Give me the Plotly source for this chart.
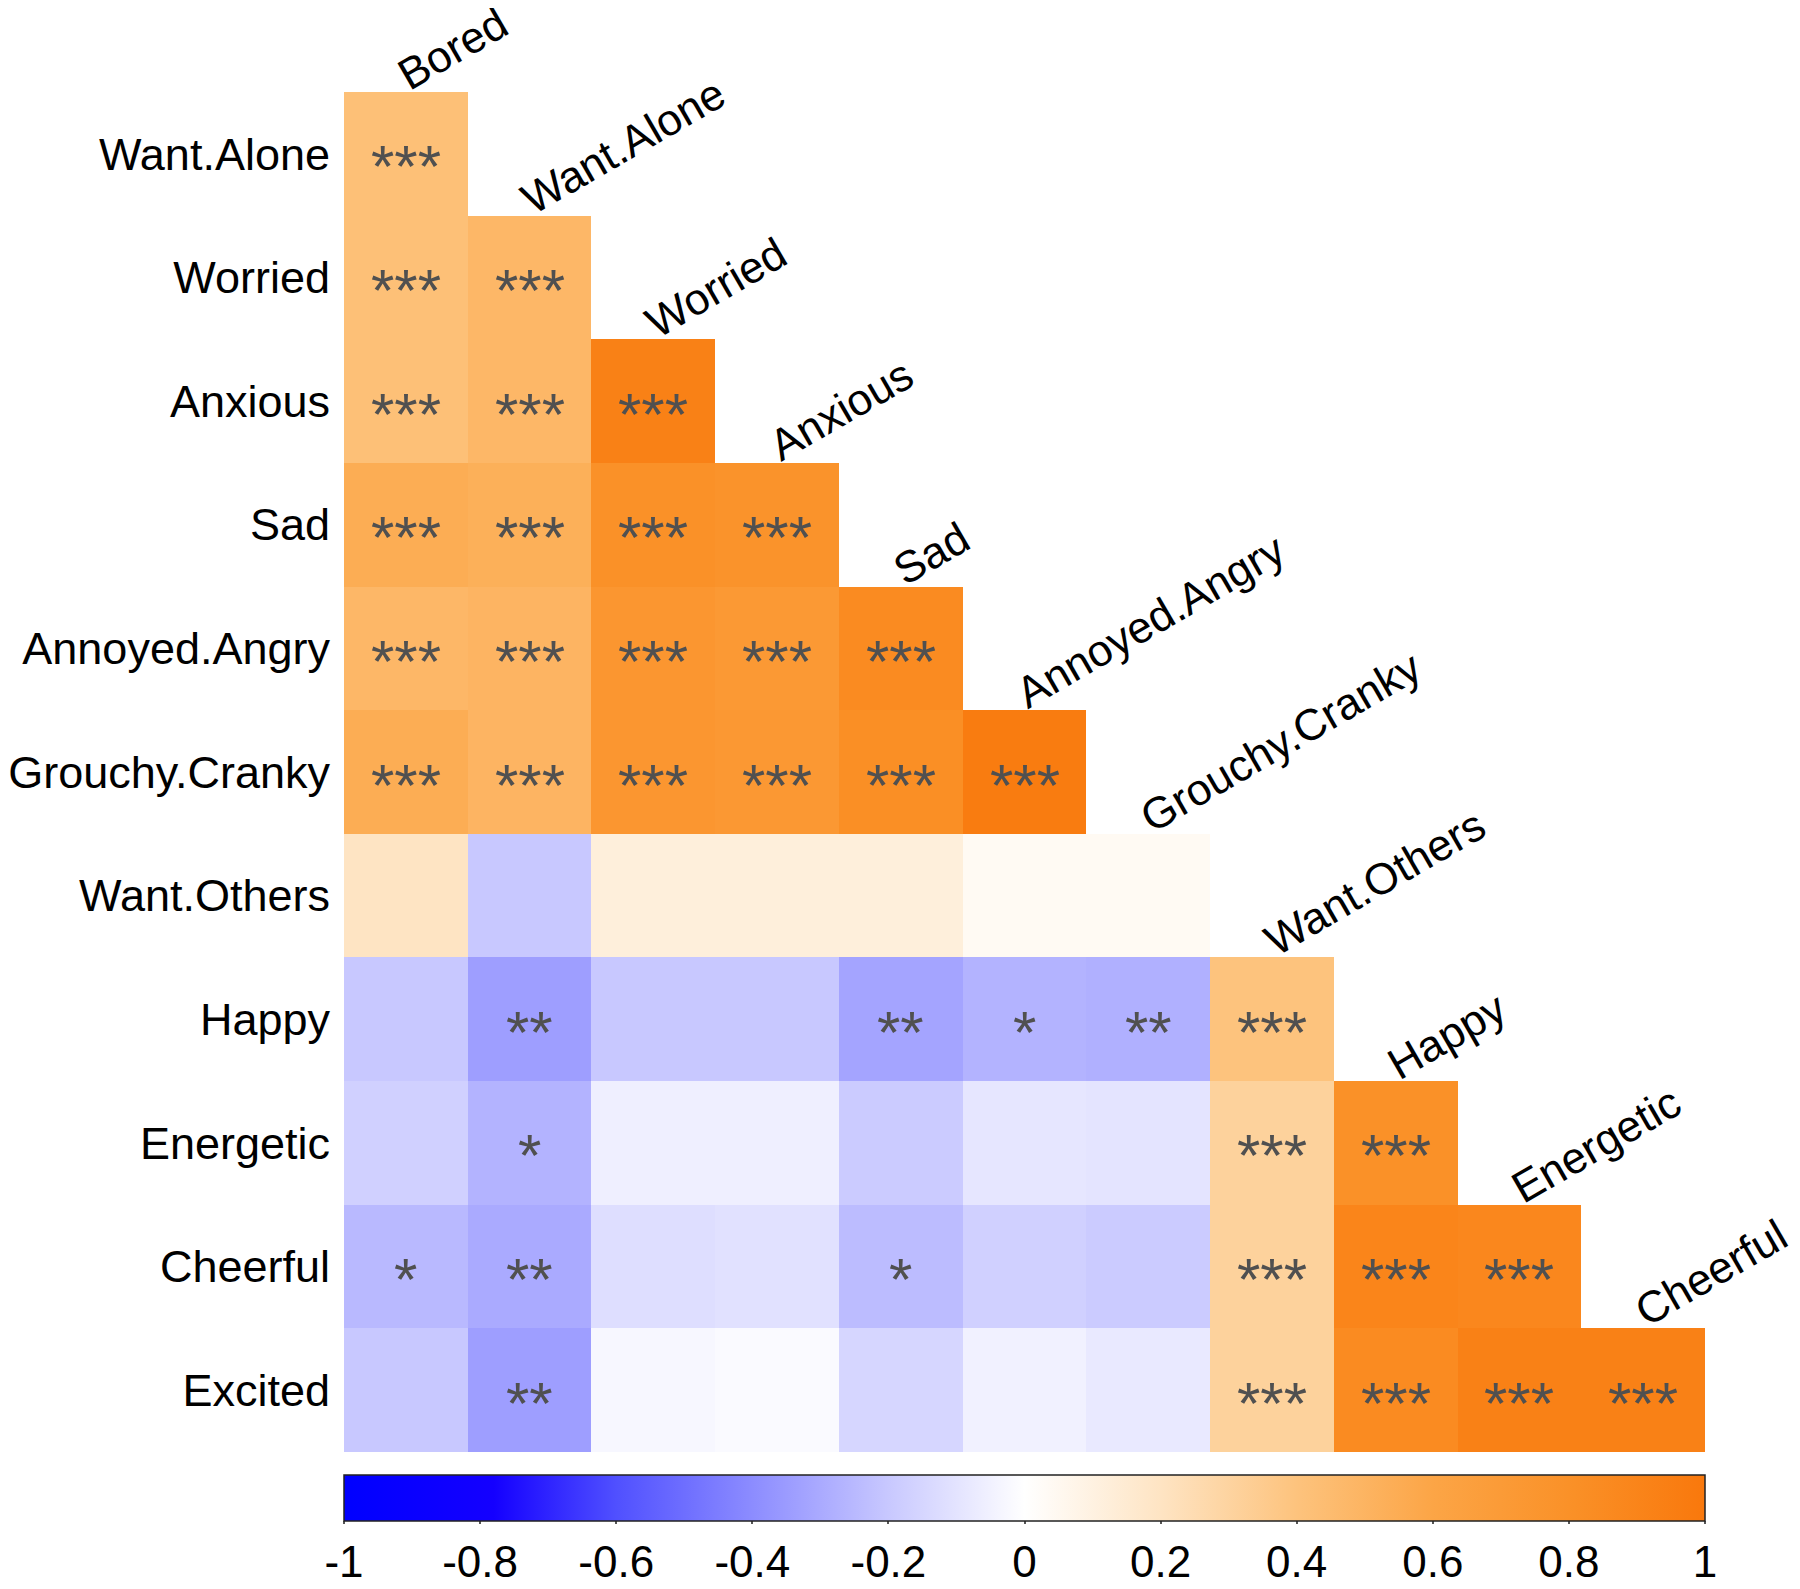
import plotly.graph_objects as go

col_labels = ["Bored", "Want.Alone", "Worried", "Anxious", "Sad", "Annoyed.Angry",
              "Grouchy.Cranky", "Want.Others", "Happy", "Energetic", "Cheerful"]
row_labels = ["Want.Alone", "Worried", "Anxious", "Sad", "Annoyed.Angry", "Grouchy.Cranky",
              "Want.Others", "Happy", "Energetic", "Cheerful", "Excited"]

# lower-triangle correlations, row i has columns 0..i
r_want_alone = [0.42]
r_worried = [0.42, 0.48]
r_anxious = [0.42, 0.48, 0.93]
r_sad = [0.55, 0.53, 0.80, 0.78]
r_annoyed = [0.48, 0.50, 0.75, 0.72, 0.85]
r_grouchy = [0.55, 0.50, 0.75, 0.73, 0.82, 0.97]
r_want_others = [0.20, -0.20, 0.12, 0.12, 0.12, 0.04, 0.04]
r_happy = [-0.20, -0.34, -0.20, -0.20, -0.32, -0.27, -0.28, 0.40]
r_energetic = [-0.17, -0.27, -0.06, -0.06, -0.19, -0.09, -0.10, 0.31, 0.80]
r_cheerful = [-0.25, -0.30, -0.12, -0.11, -0.24, -0.17, -0.19, 0.31, 0.90, 0.88]
r_excited = [-0.20, -0.34, -0.03, -0.02, -0.15, -0.05, -0.08, 0.31, 0.85, 0.93, 0.93]
corr_rows = [r_want_alone, r_worried, r_anxious, r_sad, r_annoyed, r_grouchy,
             r_want_others, r_happy, r_energetic, r_cheerful, r_excited]

# significance stars
s_want_alone = ["***"]
s_worried = ["***", "***"]
s_anxious = ["***", "***", "***"]
s_sad = ["***", "***", "***", "***"]
s_annoyed = ["***", "***", "***", "***", "***"]
s_grouchy = ["***", "***", "***", "***", "***", "***"]
s_want_others = ["", "", "", "", "", "", ""]
s_happy = ["", "**", "", "", "**", "*", "**", "***"]
s_energetic = ["", "*", "", "", "", "", "", "***", "***"]
s_cheerful = ["*", "**", "", "", "*", "", "", "***", "***", "***"]
s_excited = ["", "**", "", "", "", "", "", "***", "***", "***", "***"]
star_rows = [s_want_alone, s_worried, s_anxious, s_sad, s_annoyed, s_grouchy,
             s_want_others, s_happy, s_energetic, s_cheerful, s_excited]

cbar_ticks = [-1, -0.8, -0.6, -0.4, -0.2, 0, 0.2, 0.4, 0.6, 0.8, 1]
cbar_text = ["-1", "-0.8", "-0.6", "-0.4", "-0.2", "0", "0.2", "0.4", "0.6", "0.8", "1"]

n = len(col_labels)
z = [[(row[j] if j < len(row) else None) for j in range(n)] for row in corr_rows]

colorscale = [
    [0.0, "rgb(0,0,255)"],
    [0.11, "rgb(20,0,255)"],
    [0.2, "rgb(80,80,255)"],
    [0.3, "rgb(140,140,255)"],
    [0.4, "rgb(200,200,255)"],
    [0.5, "rgb(255,255,255)"],
    [0.6, "rgb(254,228,195)"],
    [0.7, "rgb(253,195,125)"],
    [0.8, "rgb(252,165,70)"],
    [0.9, "rgb(250,145,40)"],
    [1.0, "rgb(249,120,12)"],
]

FONT = "Liberation Sans, Arial, sans-serif"

fig = go.Figure()
fig.add_trace(go.Heatmap(
    z=z, x=list(range(n)), y=list(range(len(row_labels))),
    zmin=-1, zmax=1, colorscale=colorscale, xgap=0, ygap=0,
    hoverongaps=False,
    colorbar=dict(
        orientation="h", x=0.5, xanchor="center", y=-0.017, yanchor="top",
        len=1.0, lenmode="fraction", thickness=46, xpad=0, ypad=0,
        outlinecolor="#222222", outlinewidth=1.5,
        tickvals=cbar_ticks, ticktext=cbar_text, ticks="outside", ticklen=3,
        tickcolor="#555555", tickwidth=1.5,
        tickfont=dict(family=FONT, size=44, color="black"),
    ),
))

annotations = []
for i, row in enumerate(star_rows):
    for j, s in enumerate(row):
        if s:
            annotations.append(dict(
                x=j, y=i, xref="x", yref="y", text=s, showarrow=False,
                font=dict(family=FONT, size=60, color="#505050"),
                xanchor="center", yanchor="middle", yshift=-13,
            ))
for j, lab in enumerate(col_labels):
    annotations.append(dict(
        x=j, y=j - 0.5, xref="x", yref="y", text=lab, showarrow=False,
        textangle=-30, xanchor="left", yanchor="bottom", xshift=-19, yshift=-10,
        font=dict(family=FONT, size=44, color="black"),
    ))

# page body adds an 8px offset, so the figure is 8px smaller than the window
fig.update_layout(
    width=1792, height=1581,
    margin=dict(l=336, r=95, t=84, b=137, autoexpand=False),
    paper_bgcolor="white", plot_bgcolor="white",
    annotations=annotations,
    xaxis=dict(range=[-0.5, n - 0.5], showgrid=False, zeroline=False,
               showticklabels=False, ticks="", showline=False, automargin=False),
    yaxis=dict(range=[len(row_labels) - 0.5, -0.5], showgrid=False, zeroline=False,
               tickvals=list(range(len(row_labels))), ticktext=row_labels,
               ticks="outside", ticklen=4, tickcolor="rgba(0,0,0,0)",
               tickfont=dict(family=FONT, size=45, color="black"), showline=False,
               automargin=False),
)

fig.write_html("out.html")
